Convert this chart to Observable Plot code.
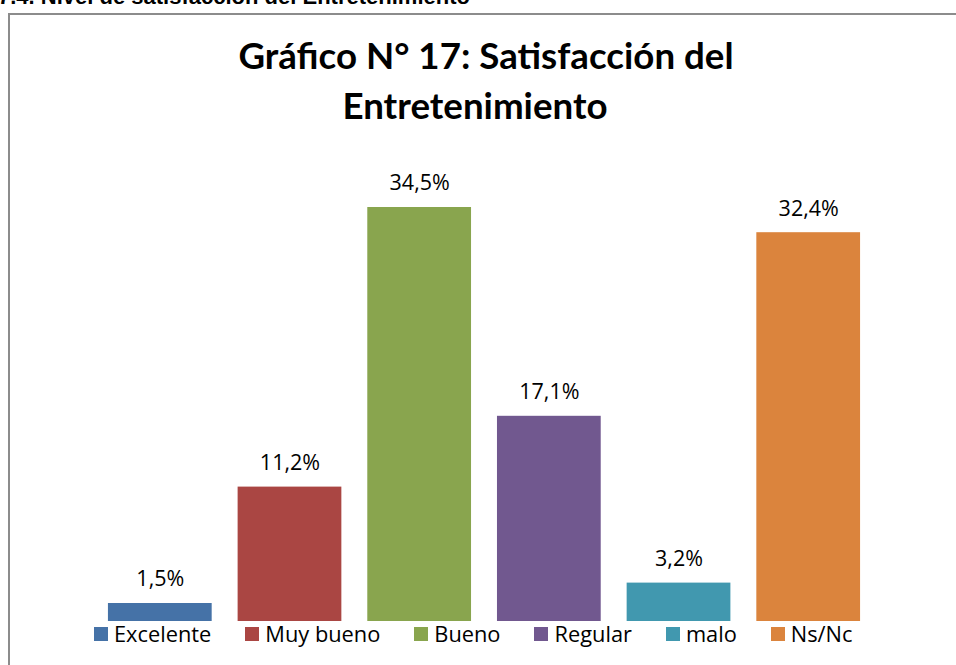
<!DOCTYPE html>
<html>
<head>
<meta charset="utf-8">
<script src="https://cdn.jsdelivr.net/npm/d3@7"></script>
<script src="https://cdn.jsdelivr.net/npm/@observablehq/plot@0.6"></script>
<style>
  html, body { margin: 0; padding: 0; background: #fff; width: 956px; height: 665px; overflow: hidden; }
  #page { position: relative; width: 956px; height: 665px; overflow: hidden; }
  #heading { position: absolute; left: -2px; top: -14px; font: bold 22px "Liberation Sans", Arial, sans-serif; line-height: 1; color: #000; white-space: nowrap; }
  #box { position: absolute; left: 8px; top: 13px; width: 1000px; height: 700px; border: 2px solid #8c8c8c; box-sizing: border-box; }
  .tline { position: absolute; width: 700px; text-align: center; font: bold 36.7px "Lato", sans-serif; line-height: 1; color: #000; white-space: nowrap; }
  #chart { position: absolute; left: 0; top: 0; }
  #legend { position: absolute; left: 94px; top: 621px; display: flex; gap: 34px; font: 21.8px "Open Sans", sans-serif; line-height: 26px; color: #000; white-space: nowrap; }
  .item { display: flex; align-items: center; gap: 6px; }
  .sw { width: 14px; height: 14px; display: inline-block; }
</style>
</head>
<body>
<div id="page">
  <div id="heading">7.4. Nivel de satisfacción del Entretenimiento</div>
  <div id="box"></div>
  <div id="chart"></div>
  <div class="tline" id="t1" style="left:136px; top:37px;">Gráfico N° 17: Satisfacción del</div>
  <div class="tline" id="t2" style="left:125px; top:87px;">Entretenimiento</div>
  <div id="legend"></div>
</div>
<script>
const categories = ["Excelente", "Muy bueno", "Bueno", "Regular", "malo", "Ns/Nc"];
const values = [1.5, 11.2, 34.5, 17.1, 3.2, 32.4];
const colors = ["#4572A7", "#AA4643", "#89A54E", "#71588F", "#4198AF", "#DB843D"];
const labels = ["1,5%", "11,2%", "34,5%", "17,1%", "3,2%", "32,4%"];

const data = categories.map((c, i) => ({ category: c, value: values[i], label: labels[i] }));

const plot = Plot.plot({
  width: 956,
  height: 665,
  marginTop: 141,
  marginBottom: 44,
  marginLeft: 82,
  marginRight: 70,
  x: { domain: categories, padding: 0.2, round: false, axis: null },
  y: { domain: [0, 40], axis: null },
  color: { domain: categories, range: colors },
  style: { background: "transparent", overflow: "visible" },
  marks: [
    Plot.barY(data, { x: "category", y: "value", fill: "category" }),
    Plot.text(data, {
      x: "category", y: "value", text: "label", dy: -24,
      fontSize: 21.5, fill: "#000",
      fontFamily: "'Open Sans', sans-serif"
    })
  ]
});
document.getElementById("chart").appendChild(plot);

const legend = document.getElementById("legend");
categories.forEach((c, i) => {
  const item = document.createElement("div");
  item.className = "item";
  const sw = document.createElement("span");
  sw.className = "sw";
  sw.style.background = colors[i];
  const t = document.createElement("span");
  t.textContent = c;
  item.appendChild(sw);
  item.appendChild(t);
  legend.appendChild(item);
});
</script>
</body>
</html>
